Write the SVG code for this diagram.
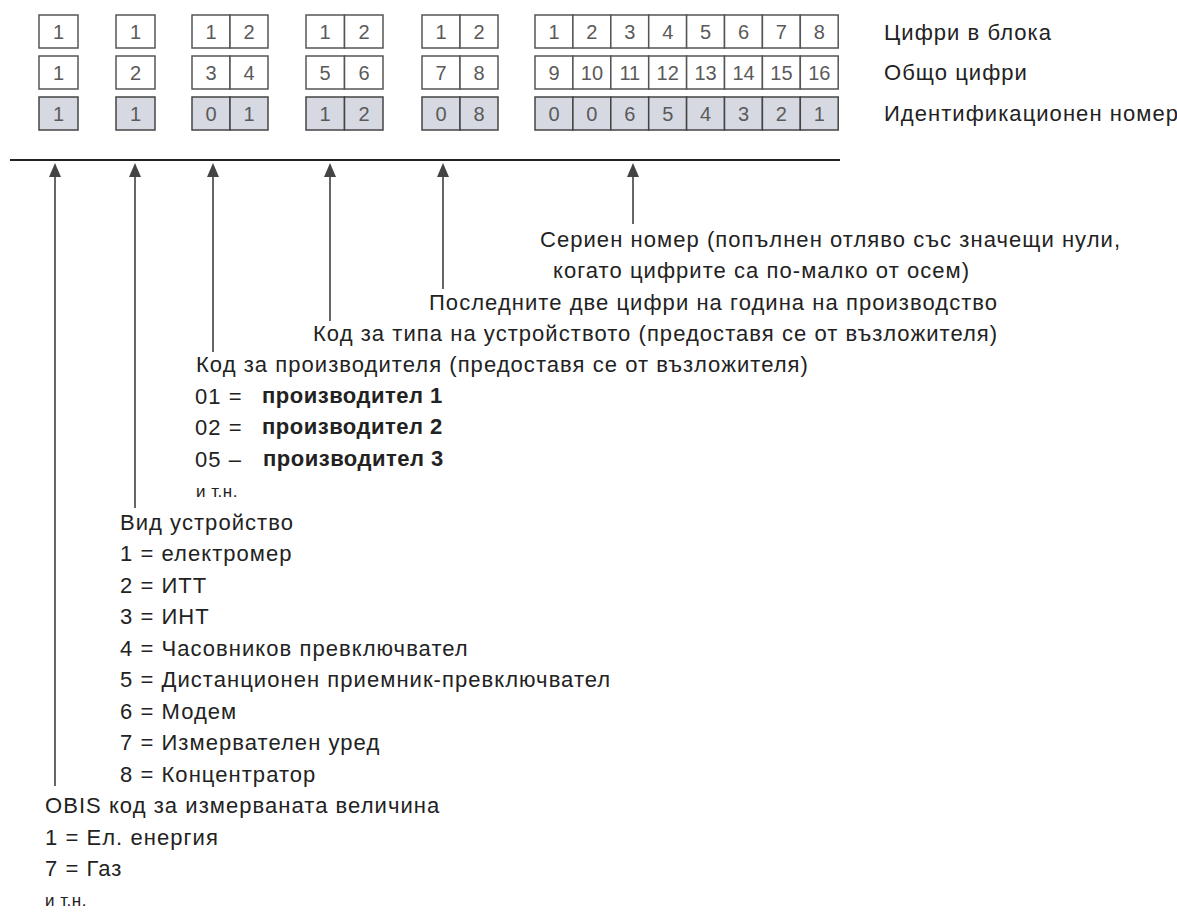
<svg xmlns="http://www.w3.org/2000/svg" width="1177" height="917" viewBox="0 0 1177 917">
<defs>
<style>
.t{font-family:"Liberation Sans",Arial,sans-serif;font-size:22px;letter-spacing:1.05px;fill:#222}
.b{font-family:"Liberation Sans",Arial,sans-serif;font-size:22px;font-weight:bold;letter-spacing:0.5px;fill:#222}
.s{font-family:"Liberation Sans",Arial,sans-serif;font-size:17px;letter-spacing:0.5px;fill:#222}
.d{font-family:"Liberation Sans",Arial,sans-serif;font-size:20px;fill:#5a5a5a;text-anchor:middle}
.c{fill:#fff;stroke:#555;stroke-width:1.5}
.g{fill:#d6d9e1;stroke:#444;stroke-width:1.5}
.ln{stroke:#333;stroke-width:1.5;fill:none}
.base{stroke:#222;stroke-width:2.2;fill:none}
</style>
<marker id="ah" markerUnits="userSpaceOnUse" markerWidth="14" markerHeight="12" refX="0" refY="6" orient="auto">
<path d="M0,0 L14,6 L0,12 z" fill="#444"/>
</marker>
</defs>
<rect width="1177" height="917" fill="#fff"/>

<g id="block-1">
<rect class="c" x="39" y="15" width="39" height="33"/>
<rect class="c" x="39" y="56" width="39" height="33"/>
<rect class="g" x="39" y="97" width="39" height="33"/>
<text class="d" x="58.5" y="39">1</text>
<text class="d" x="58.5" y="80">1</text>
<text class="d" x="58.5" y="121">1</text>
</g>
<g id="block-2">
<rect class="c" x="116" y="15" width="39" height="33"/>
<rect class="c" x="116" y="56" width="39" height="33"/>
<rect class="g" x="116" y="97" width="39" height="33"/>
<text class="d" x="135.5" y="39">1</text>
<text class="d" x="135.5" y="80">2</text>
<text class="d" x="135.5" y="121">1</text>
</g>
<g id="block-3">
<rect class="c" x="192" y="15" width="38" height="33"/><rect class="c" x="230" y="15" width="38" height="33"/>
<rect class="c" x="192" y="56" width="38" height="33"/><rect class="c" x="230" y="56" width="38" height="33"/>
<rect class="g" x="192" y="97" width="38" height="33"/><rect class="g" x="230" y="97" width="38" height="33"/>
<text class="d" x="211" y="39">1</text><text class="d" x="249" y="39">2</text>
<text class="d" x="211" y="80">3</text><text class="d" x="249" y="80">4</text>
<text class="d" x="211" y="121">0</text><text class="d" x="249" y="121">1</text>
</g>
<g id="block-4">
<rect class="c" x="306" y="15" width="38.5" height="33"/><rect class="c" x="344.5" y="15" width="38.5" height="33"/>
<rect class="c" x="306" y="56" width="38.5" height="33"/><rect class="c" x="344.5" y="56" width="38.5" height="33"/>
<rect class="g" x="306" y="97" width="38.5" height="33"/><rect class="g" x="344.5" y="97" width="38.5" height="33"/>
<text class="d" x="325" y="39">1</text><text class="d" x="364" y="39">2</text>
<text class="d" x="325" y="80">5</text><text class="d" x="364" y="80">6</text>
<text class="d" x="325" y="121">1</text><text class="d" x="364" y="121">2</text>
</g>
<g id="block-5">
<rect class="c" x="422" y="15" width="38" height="33"/><rect class="c" x="460" y="15" width="38" height="33"/>
<rect class="c" x="422" y="56" width="38" height="33"/><rect class="c" x="460" y="56" width="38" height="33"/>
<rect class="g" x="422" y="97" width="38" height="33"/><rect class="g" x="460" y="97" width="38" height="33"/>
<text class="d" x="441" y="39">1</text><text class="d" x="479" y="39">2</text>
<text class="d" x="441" y="80">7</text><text class="d" x="479" y="80">8</text>
<text class="d" x="441" y="121">0</text><text class="d" x="479" y="121">8</text>
</g>
<g id="block-6">
<g class="c">
<rect x="535" y="15" width="37.9" height="33"/><rect x="572.9" y="15" width="37.9" height="33"/><rect x="610.8" y="15" width="37.9" height="33"/><rect x="648.7" y="15" width="37.9" height="33"/><rect x="686.6" y="15" width="37.9" height="33"/><rect x="724.5" y="15" width="37.9" height="33"/><rect x="762.4" y="15" width="37.9" height="33"/><rect x="800.3" y="15" width="37.9" height="33"/>
<rect x="535" y="56" width="37.9" height="33"/><rect x="572.9" y="56" width="37.9" height="33"/><rect x="610.8" y="56" width="37.9" height="33"/><rect x="648.7" y="56" width="37.9" height="33"/><rect x="686.6" y="56" width="37.9" height="33"/><rect x="724.5" y="56" width="37.9" height="33"/><rect x="762.4" y="56" width="37.9" height="33"/><rect x="800.3" y="56" width="37.9" height="33"/>
</g>
<g class="g">
<rect x="535" y="97" width="37.9" height="33"/><rect x="572.9" y="97" width="37.9" height="33"/><rect x="610.8" y="97" width="37.9" height="33"/><rect x="648.7" y="97" width="37.9" height="33"/><rect x="686.6" y="97" width="37.9" height="33"/><rect x="724.5" y="97" width="37.9" height="33"/><rect x="762.4" y="97" width="37.9" height="33"/><rect x="800.3" y="97" width="37.9" height="33"/>
</g>
<text class="d" x="554" y="39">1</text><text class="d" x="591.9" y="39">2</text><text class="d" x="629.8" y="39">3</text><text class="d" x="667.7" y="39">4</text><text class="d" x="705.6" y="39">5</text><text class="d" x="743.5" y="39">6</text><text class="d" x="781.4" y="39">7</text><text class="d" x="819.3" y="39">8</text>
<text class="d" x="554" y="80">9</text><text class="d" x="591.9" y="80">10</text><text class="d" x="629.8" y="80">11</text><text class="d" x="667.7" y="80">12</text><text class="d" x="705.6" y="80">13</text><text class="d" x="743.5" y="80">14</text><text class="d" x="781.4" y="80">15</text><text class="d" x="819.3" y="80">16</text>
<text class="d" x="554" y="121">0</text><text class="d" x="591.9" y="121">0</text><text class="d" x="629.8" y="121">6</text><text class="d" x="667.7" y="121">5</text><text class="d" x="705.6" y="121">4</text><text class="d" x="743.5" y="121">3</text><text class="d" x="781.4" y="121">2</text><text class="d" x="819.3" y="121">1</text>
</g>

<g id="row-labels">
<text class="t" x="884" y="40">Цифри в блока</text>
<text class="t" x="884" y="80">Общо цифри</text>
<text class="t" x="884" y="121">Идентификационен номер</text>
</g>

<g id="connectors">
<line class="base" x1="10" y1="160" x2="840" y2="160"/>
<path class="ln" d="M55,786 V177" marker-end="url(#ah)"/>
<path class="ln" d="M135,508 V177" marker-end="url(#ah)"/>
<path class="ln" d="M213,352 V177" marker-end="url(#ah)"/>
<path class="ln" d="M330,321 V177" marker-end="url(#ah)"/>
<path class="ln" d="M443,289 V177" marker-end="url(#ah)"/>
<path class="ln" d="M633,224 V177" marker-end="url(#ah)"/>
</g>

<g id="label-serial">
<text class="t" x="540" y="247">Сериен номер (попълнен отляво със значещи нули,</text>
<text class="t" x="553" y="278">когато цифрите са по-малко от осем)</text>
</g>
<g id="label-year">
<text class="t" x="429" y="310">Последните две цифри на година на производство</text>
</g>
<g id="label-type">
<text class="t" x="313" y="341">Код за типа на устройството (предоставя се от възложителя)</text>
</g>
<g id="label-manufacturer">
<text class="t" x="196" y="372">Код за производителя (предоставя се от възложителя)</text>
<text class="t" x="195" y="404">01 =</text>
<text class="b" x="262" y="403">производител 1</text>
<text class="t" x="195" y="435">02 =</text>
<text class="b" x="262" y="434">производител 2</text>
<text class="t" x="195" y="467">05 –</text>
<text class="b" x="263" y="466">производител 3</text>
<text class="s" x="196" y="497">и т.н.</text>
</g>
<g id="label-device">
<text class="t" x="120" y="530">Вид устройство</text>
<text class="t" x="120" y="561">1 = електромер</text>
<text class="t" x="120" y="593">2 = ИТТ</text>
<text class="t" x="120" y="624">3 = ИНТ</text>
<text class="t" x="120" y="656">4 = Часовников превключвател</text>
<text class="t" x="120" y="687">5 = Дистанционен приемник-превключвател</text>
<text class="t" x="120" y="719">6 = Модем</text>
<text class="t" x="120" y="750">7 = Измервателен уред</text>
<text class="t" x="120" y="782">8 = Концентратор</text>
</g>
<g id="label-obis">
<text class="t" x="45" y="813">OBIS код за измерваната величина</text>
<text class="t" x="45" y="845">1 = Ел. енергия</text>
<text class="t" x="45" y="876">7 = Газ</text>
<text class="s" x="45" y="906">и т.н.</text>
</g>
</svg>
